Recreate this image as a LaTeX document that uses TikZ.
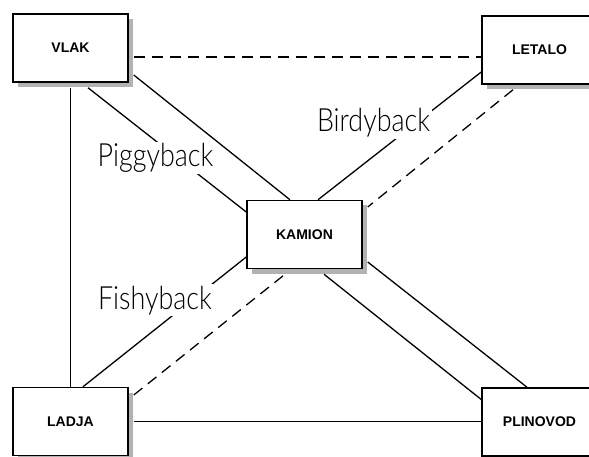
\documentclass[tikz,border=0pt]{standalone}
\usepackage{fontspec}
\setsansfont{Liberation Sans}
\newfontfamily\lblfont{Lato}[UprightFont={* Light}, FakeStretch=0.84]
\usetikzlibrary{shadows}

\begin{document}
\begin{tikzpicture}[
  x=1pt, y=-1pt,
  font=\sffamily\bfseries\fontsize{14}{16}\selectfont,
  mode/.style ={rectangle, draw=black, line width=1.5pt, fill=white,
                minimum width=115pt, minimum height=68pt, inner sep=0pt,
                drop shadow={shadow xshift=5pt, shadow yshift=-5pt,
                             fill=gray!60, opacity=1}},
  link/.style ={line width=1.3pt, draw=black},
  maybe/.style={link, dash pattern=on 11pt off 7pt},
  combo/.style={fill=white, inner sep=1.5pt, anchor=base,
                font=\lblfont\fontsize{32}{36}\selectfont},
]

% picture frame (boxes on the right run off the edge)
\useasboundingbox (0,0) rectangle (589,457);
\clip (0,0) rectangle (589,457);

% Transport modes
\node[mode] (vlak)     at (70.5,48)     {VLAK};
\node[mode] (letalo)   at (539.5,50)    {LETALO};
\node[mode] (kamion)   at (304.5,234.5) {KAMION};
\node[mode] (ladja)    at (70.5,421.5)  {LADJA};
\node[mode] (plinovod) at (539.5,422)   {PLINOVOD};

% Outer frame of links
\draw[maybe] ([xshift=5pt,yshift=-9pt]vlak.east) -- ([yshift=-7pt]letalo.west);
\draw[link]  ([yshift=-5pt]vlak.south) -- (ladja.north);
\draw[link]  ([xshift=5pt]ladja.east) -- (plinovod.west |- ladja.east);

% vlak <-> kamion
\draw[link] ([xshift=17.5pt,yshift=-5pt]vlak.south) -- ([yshift=22.5pt]kamion.west);
\draw[link] ([xshift=5pt,yshift=-27pt]vlak.east) -- ([xshift=-14.5pt]kamion.north);

% letalo <-> kamion
\draw[link]  ([yshift=-22pt]letalo.west) -- ([xshift=13.5pt]kamion.north);
\draw[maybe] ([xshift=-26.5pt,yshift=-5pt]letalo.south) -- ([xshift=5pt,yshift=27.5pt]kamion.east);

% ladja <-> kamion
\draw[link]  ([xshift=12.5pt]ladja.north) -- ([yshift=-22.5pt]kamion.west);
\draw[maybe] ([xshift=5pt,yshift=26.5pt]ladja.east) -- ([xshift=-19.5pt,yshift=-5pt]kamion.south);

% kamion <-> plinovod
\draw[link] ([xshift=5pt,yshift=-27.5pt]kamion.east) -- ([xshift=-12.5pt]plinovod.north);
\draw[link] ([xshift=19.5pt,yshift=-5pt]kamion.south) -- ([yshift=22.5pt]plinovod.west);

% -------- combined transport labels ---------------------------------------
\node[combo] (piggy) at (155.5,167) {Piggyback};
\node[combo] (birdy) at (373.5,132) {Birdyback};
\node[combo] (fishy) at (155,309)   {Fishyback};

\end{tikzpicture}
\end{document}
